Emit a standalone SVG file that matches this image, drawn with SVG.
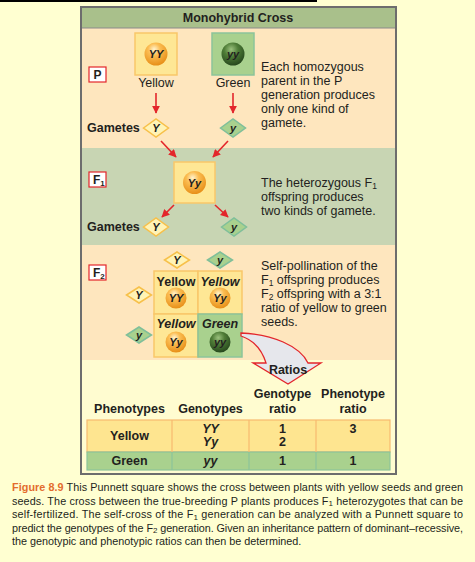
<svg xmlns="http://www.w3.org/2000/svg" width="475" height="562" viewBox="0 0 475 562">
<defs>
<radialGradient id="py" cx="0.42" cy="0.3" r="0.75">
<stop offset="0" stop-color="#fff4d0"/>
<stop offset="0.35" stop-color="#fbbd52"/>
<stop offset="1" stop-color="#e58a12"/>
</radialGradient>
<radialGradient id="pg" cx="0.42" cy="0.3" r="0.75">
<stop offset="0" stop-color="#9cc27e"/>
<stop offset="0.4" stop-color="#4f7d37"/>
<stop offset="1" stop-color="#22421a"/>
</radialGradient>
<marker id="ah" viewBox="0 0 10 10" refX="9" refY="5" markerWidth="5" markerHeight="5" orient="auto">
<path d="M0,0 L10,5 L0,10 z" fill="#e3262b"/>
</marker>
<style>
text{font-family:"Liberation Sans",Arial,sans-serif;fill:#231f20}
.b{font-weight:bold}
.bi{font-weight:bold;font-style:italic}
.t{font-size:12.5px}
.ysq{fill:#fee795;stroke:#f9c76a;stroke-width:1.5}
.gsq{fill:#a9d18e;stroke:#8cc49a;stroke-width:1.5}
.yd{fill:#fff3b6;stroke:#f7c04a;stroke-width:1.5}
.gd{fill:#a9d18e;stroke:#7fbf9a;stroke-width:1.5}
.lab{fill:#fff;stroke:#e3262b;stroke-width:1.2}
.arr{stroke:#e3262b;stroke-width:1.6;fill:none;marker-end:url(#ah)}
.pea{font-size:11px;font-weight:bold;font-style:italic;text-anchor:middle}
.mid{text-anchor:middle}
.cap{font-size:10.8px}
</style>
</defs>
<rect x="0" y="0" width="475" height="562" fill="#ffffd1"/>
<rect x="0" y="0" width="317" height="2" fill="#000"/>

<!-- frame sections -->
<g id="frame">
<rect x="80" y="6" width="317" height="22" fill="#a9c08b"/>
<rect x="80" y="28" width="317" height="120" fill="#fee6be"/>
<rect x="80" y="148" width="317" height="97" fill="#c8d5b3"/>
<rect x="80" y="245" width="317" height="115" fill="#fee6be"/>
<rect x="80" y="360" width="317" height="115" fill="#fffcd0"/>
<line x1="80" y1="28" x2="397" y2="28" stroke="#8a8a8a" stroke-width="1"/>
<rect x="81" y="7" width="315" height="467" fill="none" stroke="#6d6d6d" stroke-width="2"/>
<text x="238" y="22" class="b t mid">Monohybrid Cross</text>
</g>

<!-- P generation -->
<g id="p-label"><rect x="89" y="67" width="17" height="15" class="lab"/><text x="97.5" y="79" class="b mid" font-size="12">P</text></g>
<g id="p-yellow">
<rect x="135" y="33" width="42" height="42" class="ysq"/>
<circle cx="156" cy="54" r="11.5" fill="url(#py)"/>
<text x="156" y="58" class="pea">YY</text>
<text x="156" y="87" class="t mid">Yellow</text>
</g>
<g id="p-green">
<rect x="212" y="33" width="42" height="42" class="gsq"/>
<circle cx="233" cy="54" r="11.5" fill="url(#pg)"/>
<text x="233" y="58" class="pea">yy</text>
<text x="233" y="87" class="t mid">Green</text>
</g>
<g id="p-text">
<text class="t" x="261" y="71">Each homozygous</text>
<text class="t" x="261" y="85">parent in the P</text>
<text class="t" x="261" y="99">generation produces</text>
<text class="t" x="261" y="113">only one kind of</text>
<text class="t" x="261" y="127">gamete.</text>
</g>
<g id="p-gametes">
<text x="87" y="132" class="b t">Gametes</text>
<polygon points="143.5,128 156,119 168.5,128 156,137" class="yd"/>
<text x="156" y="132" class="pea">Y</text>
<polygon points="220.5,128 233,119 245.5,128 233,137" class="gd"/>
<text x="233" y="132" class="pea">y</text>
</g>

<!-- F1 -->
<g id="f1-label"><rect x="89" y="172" width="17" height="15" class="lab"/><text x="93" y="184" class="b" font-size="12">F<tspan font-size="8" dy="2">1</tspan></text></g>
<g id="f1-offspring">
<rect x="174" y="162" width="41" height="41" class="ysq"/>
<circle cx="194.5" cy="182.5" r="11.5" fill="url(#py)"/>
<text x="194.5" y="186.5" class="pea">Yy</text>
</g>
<g id="f1-text">
<text class="t" x="261" y="187">The heterozygous F<tspan font-size="8.5" dy="2">1</tspan></text>
<text class="t" x="261" y="201">offspring produces</text>
<text class="t" x="261" y="215">two kinds of gamete.</text>
</g>
<g id="f1-gametes">
<text x="87" y="231" class="b t">Gametes</text>
<polygon points="143.5,227 156,218 168.5,227 156,236" class="yd"/>
<text x="156" y="231" class="pea">Y</text>
<polygon points="221.5,227 234,218 246.5,227 234,236" class="gd"/>
<text x="234" y="231" class="pea">y</text>
</g>

<!-- F2 -->
<g id="f2-label"><rect x="89" y="265" width="17" height="15" class="lab"/><text x="93" y="277" class="b" font-size="12">F<tspan font-size="8" dy="2">2</tspan></text></g>
<g id="f2-gametes">
<polygon points="164.5,260 177,252 189.5,260 177,268" class="yd"/>
<text x="177" y="264" class="pea">Y</text>
<polygon points="207.5,260 220,252 232.5,260 220,268" class="gd"/>
<text x="220" y="264" class="pea">y</text>
<polygon points="126.5,295 139,287 151.5,295 139,303" class="yd"/>
<text x="139" y="299" class="pea">Y</text>
<polygon points="126.5,335 139,327 151.5,335 139,343" class="gd"/>
<text x="139" y="339" class="pea">y</text>
</g>
<g id="punnett">
<rect x="154" y="271" width="44" height="43" class="ysq"/>
<rect x="198" y="271" width="44" height="43" class="ysq"/>
<rect x="154" y="314" width="44" height="43" class="ysq"/>
<rect x="198" y="314" width="44" height="43" class="gsq"/>
<text x="176" y="286" class="b mid" font-size="12.5">Yellow</text>
<text x="220" y="286" class="bi mid" font-size="12.5">Yellow</text>
<text x="176" y="328" class="bi mid" font-size="12.5">Yellow</text>
<text x="220" y="328" class="bi mid" font-size="12.5">Green</text>
<circle cx="176" cy="298" r="10.5" fill="url(#py)"/>
<text x="176" y="302" class="pea">YY</text>
<circle cx="220" cy="298" r="10.5" fill="url(#py)"/>
<text x="220" y="302" class="pea">Yy</text>
<circle cx="176" cy="342" r="10.5" fill="url(#py)"/>
<text x="176" y="346" class="pea">Yy</text>
<circle cx="220" cy="342" r="10.5" fill="url(#pg)"/>
<text x="220" y="346" class="pea">yy</text>
</g>
<g id="f2-text">
<text class="t" x="261" y="270">Self-pollination of the</text>
<text class="t" x="261" y="284">F<tspan font-size="8.5" dy="2">1</tspan><tspan dy="-2"> offspring produces</tspan></text>
<text class="t" x="261" y="298">F<tspan font-size="8.5" dy="2">2</tspan><tspan dy="-2"> offspring with a 3:1</tspan></text>
<text class="t" x="261" y="312">ratio of yellow to green</text>
<text class="t" x="261" y="326">seeds.</text>
</g>

<!-- connectors -->
<g id="connectors">
<line x1="156" y1="93" x2="156" y2="113" class="arr"/>
<line x1="233" y1="93" x2="233" y2="113" class="arr"/>
<line x1="161" y1="141" x2="176" y2="157" class="arr"/>
<line x1="228" y1="141" x2="213" y2="157" class="arr"/>
<line x1="174" y1="205" x2="162" y2="217" class="arr"/>
<line x1="215" y1="205" x2="228" y2="217" class="arr"/>
</g>

<g id="ratios-arrow">
<path d="M241,333 C272,334 300,346 308,363 L321,363 L288,384 L253,363 L266,363 C262,350 253,340 241,336 Z" fill="#e6e7ec" stroke="#e3262b" stroke-width="1.3" stroke-linejoin="miter"/>
<text x="288" y="374" class="b t mid">Ratios</text>
</g>

<!-- table -->
<g id="table">
<text x="129.5" y="413" class="b t mid">Phenotypes</text>
<text x="210.5" y="413" class="b t mid">Genotypes</text>
<text x="282.5" y="398" class="b t mid">Genotype</text>
<text x="282.5" y="413" class="b t mid">ratio</text>
<text x="353" y="398" class="b t mid">Phenotype</text>
<text x="353" y="413" class="b t mid">ratio</text>
<rect x="87" y="420" width="303" height="32" fill="#fee590" stroke="#f7b970" stroke-width="1.2"/>
<rect x="87" y="452" width="303" height="18" fill="#a9d18e" stroke="#8cc49a" stroke-width="1.2"/>
<line x1="172" y1="420" x2="172" y2="452" stroke="#f7b970" stroke-width="1.2"/>
<line x1="249" y1="420" x2="249" y2="452" stroke="#f7b970" stroke-width="1.2"/>
<line x1="316" y1="420" x2="316" y2="452" stroke="#f7b970" stroke-width="1.2"/>
<line x1="172" y1="452" x2="172" y2="470" stroke="#8cc49a" stroke-width="1.2"/>
<line x1="249" y1="452" x2="249" y2="470" stroke="#8cc49a" stroke-width="1.2"/>
<line x1="316" y1="452" x2="316" y2="470" stroke="#8cc49a" stroke-width="1.2"/>
<text x="129.5" y="440" class="b t mid">Yellow</text>
<text x="210.5" y="433" class="bi t mid">YY</text>
<text x="210.5" y="446" class="bi t mid">Yy</text>
<text x="282.5" y="433" class="b t mid">1</text>
<text x="282.5" y="446" class="b t mid">2</text>
<text x="353" y="433" class="b t mid">3</text>
<text x="129.5" y="465" class="b t mid">Green</text>
<text x="210.5" y="465" class="bi t mid">yy</text>
<text x="282.5" y="465" class="b t mid">1</text>
<text x="353" y="465" class="b t mid">1</text>
</g>

<!-- caption -->
<g id="caption">
<text class="cap" x="12" y="491" textLength="451" lengthAdjust="spacing"><tspan class="b" fill="#e36c2d" style="fill:#e36c2d">Figure 8.9</tspan> This Punnett square shows the cross between plants with yellow seeds and green</text>
<text class="cap" x="12" y="504.5" textLength="451" lengthAdjust="spacing">seeds. The cross between the true-breeding P plants produces F<tspan font-size="8" dy="1.5">1</tspan><tspan dy="-1.5"> heterozygotes that can be</tspan></text>
<text class="cap" x="12" y="518" textLength="451" lengthAdjust="spacing">self-fertilized. The self-cross of the F<tspan font-size="8" dy="1.5">1</tspan><tspan dy="-1.5"> generation can be analyzed with a Punnett square to</tspan></text>
<text class="cap" x="12" y="531.5" textLength="451" lengthAdjust="spacing">predict the genotypes of the F<tspan font-size="8" dy="1.5">2</tspan><tspan dy="-1.5"> generation. Given an inheritance pattern of dominant–recessive,</tspan></text>
<text class="cap" x="12" y="545">the genotypic and phenotypic ratios can then be determined.</text>
</g>
</svg>
